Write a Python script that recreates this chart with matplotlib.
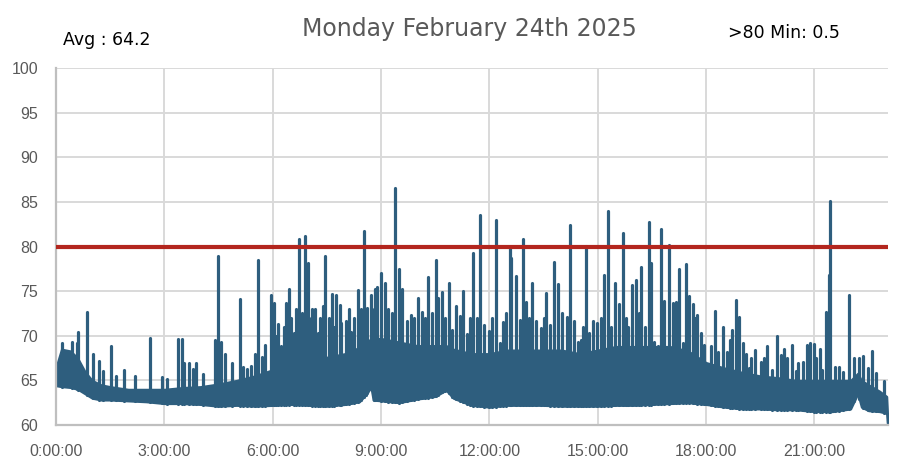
"""Sound level for one day, with the 80 limit line."""

import matplotlib

matplotlib.use("Agg")

import matplotlib.pyplot as plt
import numpy as np
from matplotlib.ticker import FixedLocator

TITLE = "Monday February 24th 2025"
AVG_LABEL = "Avg : 64.2"
OVER_LABEL = ">80 Min: 0.5"
LIMIT = 80

# dense part of the trace: lower edge and top of the solid band (hours, values)
body_t = [0.00, 0.15, 0.40, 0.60, 0.80, 1.00, 1.25, 1.50, 2.00, 2.50, 3.00, 3.50,
          4.00, 4.50, 5.00, 5.50, 6.00, 6.50, 7.00, 7.50, 8.00, 8.40, 8.60, 8.72,
          8.78, 9.00, 9.50, 10.00, 10.50, 10.80, 11.00, 11.50, 12.00, 12.50, 13.00,
          13.50, 14.00, 14.50, 15.00, 15.50, 16.00, 16.50, 17.00, 17.50, 18.00,
          18.50, 19.00, 19.50, 20.00, 20.50, 21.00, 21.50, 22.00, 22.20, 22.30,
          22.50, 22.80, 23.00, 23.02]
body_lo = [64.4, 64.3, 64.2, 64.0, 63.5, 63.0, 62.8, 62.8, 62.7, 62.6, 62.4, 62.4,
           62.3, 62.1, 62.2, 62.1, 62.2, 62.3, 62.2, 62.1, 62.3, 62.6, 63.5, 64.2,
           62.8, 62.7, 62.5, 62.9, 63.2, 63.9, 63.0, 62.2, 62.0, 62.2, 62.2,
           62.2, 62.1, 62.1, 62.1, 62.2, 62.2, 62.3, 62.4, 62.5, 62.3,
           62.0, 61.8, 61.8, 61.7, 61.7, 61.5, 61.5, 61.8, 63.5, 62.0,
           61.6, 61.5, 61.3, 60.2]
body_hi = [66.5, 68.5, 68.3, 67.5, 66.0, 65.0, 64.5, 64.3, 64.0, 64.0, 64.0, 64.2,
           64.3, 64.6, 65.0, 65.5, 66.2, 66.8, 67.3, 67.6, 68.0, 68.7, 69.2, 69.7,
           69.7, 69.7, 69.3, 68.9, 68.9, 68.9, 68.5, 68.0, 68.0, 68.4, 68.4,
           68.4, 68.4, 68.0, 68.4, 68.8, 68.8, 68.8, 68.8, 68.3, 67.0,
           66.4, 65.9, 65.5, 65.3, 65.0, 65.0, 65.0, 65.0, 65.8, 65.0,
           64.5, 63.8, 63.2, 61.5]

# peaks above the solid band
spike_t = [0.16, 0.43, 0.57, 0.62, 0.85, 1.03, 1.20, 1.30, 1.51, 1.65, 1.88, 2.20,
           2.59, 2.93, 3.07, 3.37, 3.48, 3.55, 3.68, 3.79, 3.88, 4.08, 4.39, 4.48,
           4.58, 4.67, 4.88, 5.09, 5.18, 5.30, 5.41, 5.50, 5.60, 5.69, 5.80, 5.94,
           6.03, 6.10, 6.15, 6.24, 6.30, 6.38, 6.45, 6.50, 6.59, 6.65, 6.74, 6.80,
           6.89, 6.98, 7.05, 7.10, 7.17, 7.26, 7.30, 7.38, 7.46, 7.55, 7.63, 7.70,
           7.76, 7.85, 7.90, 8.04, 8.10, 8.18, 8.25, 8.35, 8.45, 8.52, 8.58, 8.62,
           8.71, 8.80, 8.84, 8.88, 8.99, 9.10, 9.20, 9.30, 9.39, 9.51, 9.58, 9.71,
           9.83, 9.92, 10.02, 10.14, 10.22, 10.30, 10.42, 10.53, 10.59, 10.69, 10.78,
           10.88, 10.97, 11.08, 11.19, 11.28, 11.39, 11.47, 11.54, 11.65, 11.75,
           11.86, 11.98, 12.08, 12.17, 12.28, 12.37, 12.45, 12.56, 12.61, 12.74,
           12.84, 12.93, 13.02, 13.10, 13.19, 13.30, 13.43, 13.50, 13.57, 13.68,
           13.80, 13.89, 14.02, 14.16, 14.23, 14.35, 14.46, 14.53, 14.60, 14.67,
           14.76, 14.88, 14.99, 15.08, 15.16, 15.27, 15.37, 15.49, 15.60, 15.69,
           15.78, 15.84, 15.96, 16.06, 16.14, 16.21, 16.31, 16.41, 16.47, 16.57,
           16.66, 16.75, 16.84, 16.96, 17.07, 17.17, 17.26, 17.35, 17.44, 17.53,
           17.63, 17.70, 17.76, 17.86, 17.93, 18.00, 18.13, 18.26, 18.34, 18.46,
           18.59, 18.65, 18.73, 18.82, 18.91, 19.02, 19.10, 19.19, 19.25, 19.34,
           19.51, 19.60, 19.68, 19.83, 19.95, 20.06, 20.15, 20.25, 20.37, 20.48,
           20.55, 20.68, 20.78, 20.89, 20.99, 21.05, 21.15, 21.22, 21.33, 21.39,
           21.43, 21.56, 21.68, 21.79, 21.96, 22.10, 22.24, 22.35, 22.47, 22.58,
           22.71, 22.93]
spike_v = [69.2, 69.3, 69.2, 70.4, 72.7, 68.0, 67.2, 66.0, 68.8, 65.5, 66.2, 65.5,
           69.8, 65.4, 65.1, 69.6, 69.6, 67.0, 66.9, 66.3, 67.0, 65.7, 69.5, 78.9,
           69.3, 68.0, 66.9, 74.1, 66.5, 66.3, 66.6, 68.0, 78.5, 67.6, 69.0, 74.6,
           73.7, 70.0, 71.3, 68.8, 71.0, 73.7, 75.2, 72.0, 70.3, 73.0, 80.8, 72.5,
           81.2, 78.2, 72.0, 73.0, 73.0, 70.3, 72.0, 73.3, 78.9, 72.0, 74.7, 71.0,
           74.6, 73.5, 71.4, 71.6, 73.0, 70.4, 72.0, 75.1, 73.0, 81.7, 72.0, 73.1,
           74.6, 73.0, 75.2, 75.5, 77.0, 75.9, 73.0, 72.5, 86.6, 77.5, 75.2, 71.6,
           72.3, 72.0, 74.2, 72.7, 72.0, 76.6, 72.5, 78.5, 74.2, 74.9, 72.0,
           75.9, 70.7, 73.3, 72.2, 75.0, 70.2, 72.0, 79.3, 72.0, 83.5,
           71.2, 70.5, 72.0, 83.0, 69.2, 71.5, 72.5, 79.8, 78.7, 76.7,
           71.8, 80.8, 73.8, 72.0, 75.9, 71.6, 70.9, 72.0, 74.8, 71.2,
           78.3, 75.8, 72.5, 72.1, 82.4, 71.7, 69.3, 69.5, 71.0, 80.1,
           70.3, 71.7, 71.4, 72.0, 76.8, 84.0, 71.0, 75.9, 73.6, 81.5,
           72.0, 71.0, 75.7, 76.3, 72.5, 77.7, 71.0, 82.7, 78.2, 69.3,
           68.8, 82.0, 73.9, 80.2, 73.7, 73.8, 77.5, 69.2, 78.0, 74.5,
           73.6, 72.0, 72.3, 70.3, 69.0, 66.7, 68.8, 72.8, 68.2, 71.0,
           68.2, 69.5, 70.6, 74.0, 72.1, 69.2, 68.0, 66.4, 67.5, 68.4,
           67.1, 67.5, 68.9, 66.2, 70.0, 67.8, 68.5, 67.5, 69.0, 66.0,
           67.0, 67.1, 69.0, 69.2, 69.1, 67.5, 68.5, 66.2, 72.7, 76.8,
           85.1, 66.5, 66.5, 65.9, 74.6, 67.5, 67.5, 67.7, 66.4, 68.3,
           65.8, 64.9]

x_ticks = [0, 3, 6, 9, 12, 15, 18, 21]
x_labels = ["0:00:00", "3:00:00", "6:00:00", "9:00:00", "12:00:00", "15:00:00",
            "18:00:00", "21:00:00"]
y_ticks = [60, 65, 70, 75, 80, 85, 90, 95, 100]

LINE = "#2E5E7E"
RED = "#B3261E"
GRID = "#D9D9D9"
TEXT = "#595959"

plt.rcParams["font.family"] = ["Liberation Sans", "DejaVu Sans"]

fig = plt.figure(figsize=(9.14, 4.66), dpi=100)
ax = fig.add_axes([0.0613, 0.088, 0.910, 0.766])

ax.fill_between(body_t, body_lo, body_hi, color=LINE, linewidth=1.5, edgecolor=LINE)
base = np.interp(spike_t, body_t, body_lo)
ax.vlines(spike_t, base, spike_v, color=LINE, linewidth=2.3, capstyle="round")
ax.axhline(LIMIT, color=RED, linewidth=3.0, zorder=4)

ax.set_xlim(0, 23.03)
ax.set_ylim(60, 100)
ax.xaxis.set_major_locator(FixedLocator(x_ticks))
ax.set_xticklabels(x_labels)
ax.set_yticks(y_ticks)
ax.grid(True, color=GRID, linewidth=1.4)
ax.set_axisbelow(True)
for side in ("top", "right"):
    ax.spines[side].set_visible(False)
for side in ("left", "bottom"):
    ax.spines[side].set_color("#BFBFBF")
    ax.spines[side].set_linewidth(1.6)
ax.tick_params(length=0, labelsize=11.5, colors=TEXT)
ax.tick_params(axis="y", pad=13)
ax.tick_params(axis="x", pad=14)

fig.text(0.514, 0.937, TITLE, ha="center", va="center", fontsize=17, color=TEXT,
         family="DejaVu Sans")
fig.text(0.069, 0.915, AVG_LABEL, ha="left", va="center", fontsize=12.5, color="black",
         family="DejaVu Sans")
fig.text(0.796, 0.93, OVER_LABEL, ha="left", va="center", fontsize=12.5, color="black",
         family="DejaVu Sans")

fig.savefig("out.png", dpi=100)
